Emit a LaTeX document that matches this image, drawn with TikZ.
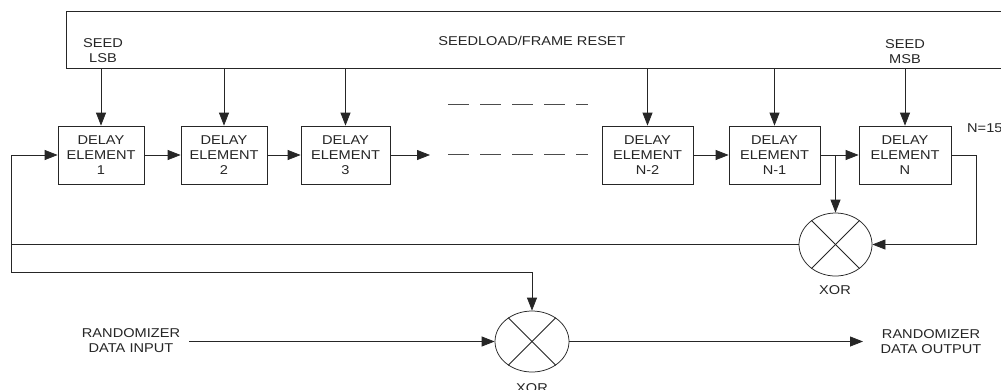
\documentclass[tikz,border=0pt]{standalone}
\usepackage{fontspec}
\setmainfont{Liberation Sans}[FakeStretch=1.14]
\usetikzlibrary{arrows.meta,shapes.geometric}
\begin{document}
\begin{tikzpicture}[x=1pt,y=-1pt,
  every node/.style={font=\fontsize{12.8}{15}\selectfont, text=black!85},
  wire/.style={line width=0.75pt, draw=black!85},
  arr/.style={wire, -{Triangle[length=13pt,width=10pt]}},
  dbox/.style={draw=black!85, line width=0.75pt, minimum width=89pt, minimum height=58pt, inner sep=0pt, align=center},
  xorg/.style={ellipse, draw=black!85, line width=0.75pt, minimum width=73pt, minimum height=62pt, inner sep=0pt},
  lbl/.style={align=center, inner sep=0pt},
  dashline/.style={line width=0.75pt, draw=black!70, dash pattern=on 21pt off 11pt}]
\clip (0,0) rectangle (1001,389);
\fill[white] (0,0) rectangle (1001,389);

% top seed-load bus
\node[draw=black!85, line width=0.75pt, minimum width=944pt, minimum height=57pt, inner sep=0pt] (reset) at (538,39.5) {};
\node[lbl] (lsb) at (103,50.5) {SEED\\LSB};
\node[lbl] (rst) at (532,41) {SEEDLOAD/FRAME RESET};
\node[lbl] (msb) at (905,51.5) {SEED\\MSB};

% delay elements
\node[dbox, minimum width=86pt] (b1) at (101,155) {DELAY\\ELEMENT\\1};
\node[dbox, minimum width=86pt] (b2) at (224,155) {DELAY\\ELEMENT\\2};
\node[dbox] (b3) at (345.5,155) {DELAY\\ELEMENT\\3};
\node[dbox, minimum width=91pt] (bn2) at (647.5,155) {DELAY\\ELEMENT\\N-2};
\node[dbox, minimum width=91pt] (bn1) at (774.5,155) {DELAY\\ELEMENT\\N-1};
\node[dbox, minimum width=92pt] (bn) at (905,155) {DELAY\\ELEMENT\\N};
\node[anchor=west, inner sep=0pt] (nval) at (967,128) {N=15};

% seed arrows
\foreach \b in {b1,b2,b3,bn2,bn1,bn}
  \draw[arr] (\b.north |- reset.south) -- (\b.north);

% chain
\draw[arr] (b1.east) -- (b2.west);
\draw[arr] (b2.east) -- (b3.west);
\coordinate (c3) at (430,155);
\draw[arr] (b3.east) -- (c3);
\coordinate (d1a) at (448,104);
\coordinate (d1b) at (588,104);
\coordinate (d2a) at (448,154);
\coordinate (d2b) at (588,154);
\draw[dashline] (d1a) -- (d1b);
\draw[dashline] (d2a) -- (d2b);
\draw[arr] (bn2.east) -- (bn1.west);
\draw[arr] (bn1.east) -- (bn.west);

% XOR gates
\node[xorg, minimum height=63pt] (x1) at (835.5,244.5) {};
\draw[wire] (x1.135) -- (x1.-45);
\draw[wire] (x1.45) -- (x1.-135);
\node[lbl] (x1l) at (835,290) {XOR};

\node[xorg, minimum width=74pt, minimum height=61pt] (x2) at (532,341.5) {};
\draw[wire] (x2.135) -- (x2.-45);
\draw[wire] (x2.45) -- (x2.-135);
\node[lbl] (x2l) at (532,388) {XOR};

% feedback taps
\coordinate (tap) at (bn1.east -| x1.north);
\draw[arr] (tap) -- (x1.north);
\coordinate (rN) at (976,155);
\draw[arr] (bn.east) -- (rN) |- (x1.east);

% feedback to input
\coordinate (L) at (11,272);
\draw[wire] (x1.west) -- (x1.west -| L);
\draw[arr] (L) |- (b1.west);
\draw[arr] (L) -| (x2.north);

% data path
\node[lbl] (din) at (131,341) {RANDOMIZER\\DATA INPUT};
\node[lbl] (dout) at (931,341.5) {RANDOMIZER\\DATA OUTPUT};
\coordinate (dinr) at (189,341.5);
\coordinate (doutl) at (863,341.5);
\draw[arr] (dinr) -- (x2.west);
\draw[arr] (x2.east) -- (doutl);
\end{tikzpicture}
\end{document}
